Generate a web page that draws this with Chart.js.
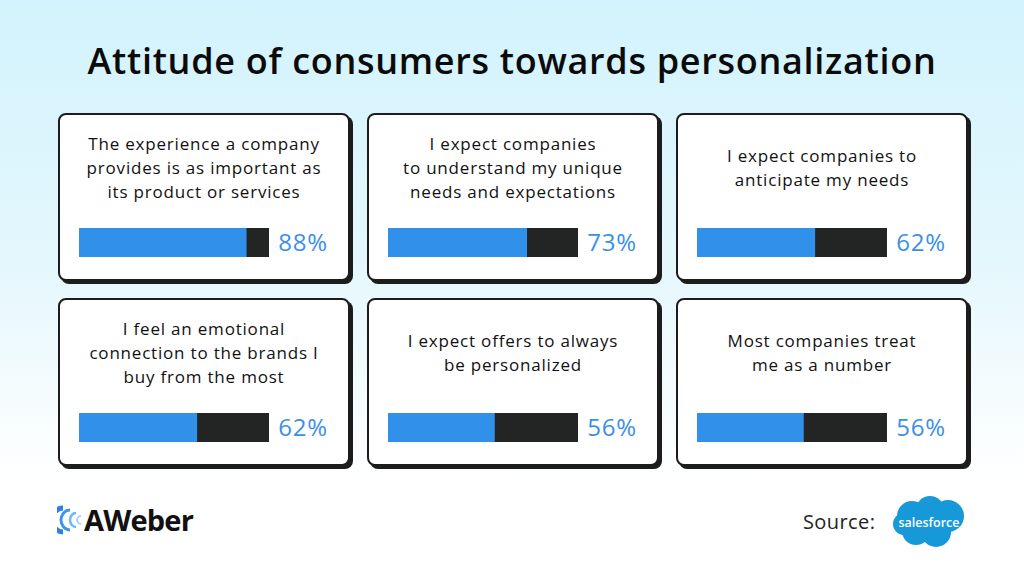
<!DOCTYPE html>
<html>
<head>
<meta charset="utf-8">
<script src="https://cdn.jsdelivr.net/npm/chart.js@4"></script>
<style>
  html, body { margin: 0; padding: 0; }
  body {
    width: 1024px; height: 576px; overflow: hidden; position: relative;
    font-family: "Open Sans", "Noto Sans", sans-serif;
    background: linear-gradient(to bottom, #d2f3fd 0px, #e4f7fd 260px, #ffffff 480px);
  }
  h1 {
    position: absolute; left: 0; top: 36px; width: 1024px; margin: 0;
    text-align: center; font-size: 36px; font-weight: 600; color: #0b0b0b;
    letter-spacing: 0.7px;
  }
  .card {
    position: absolute; box-sizing: border-box; width: 292px; height: 168px;
    background: #fff; border: 2px solid #1c1c1c; border-radius: 8px;
    box-shadow: 3px 3px 0 #1c1c1c;
  }
  .card .txt {
    position: absolute; left: 0; width: 100%; text-align: center;
    font-size: 17px; line-height: 24px; color: #111; font-weight: 500;
    letter-spacing: 0.8px;
  }
  .card .bar { position: absolute; left: 19px; top: 113px; width: 190px; height: 29px; }
  .card .pct {
    position: absolute; left: 210px; top: 111px; width: 66px; text-align: center;
    font-size: 24px; line-height: 32px; color: #3b8fe8; letter-spacing: 0.8px;
  }
  .logo { position: absolute; left: 57px; top: 505px; }
  .logo span { position: absolute; left: 27px; top: -5px; font-size: 29px; font-weight: 700; color: #111; letter-spacing: -0.8px; }
  .source { position: absolute; left: 803px; top: 508px; font-size: 20px; color: #222; letter-spacing: 0.4px; }
  .sf { position: absolute; left: 889px; top: 494px; }
</style>
</head>
<body>
<h1>Attitude of consumers towards personalization</h1>
<div id="cards"></div>

<div class="logo">
  <svg width="30" height="30" viewBox="0 0 30 30">
    <path d="M6 3 A11 12 0 0 0 6 27" fill="none" stroke="#2f7fe6" stroke-width="5"/>
    <path d="M13 5 A9 10 0 0 0 13 25" fill="none" stroke="#3f95ee" stroke-width="3"/>
    <path d="M19 8 A6 7 0 0 0 19 22" fill="none" stroke="#6fb6f5" stroke-width="2.5"/>
    <path d="M24 11 A4 4 0 0 0 24 19" fill="none" stroke="#a6d6fa" stroke-width="2"/>
  </svg>
  <span>AWeber</span>
</div>
<div class="source">Source:</div>
<svg class="sf" width="80" height="56" viewBox="0 0 78 56">
  <g fill="#1798d8">
    <circle cx="22" cy="22" r="15"/>
    <circle cx="40" cy="16" r="14"/>
    <circle cx="58" cy="22" r="16"/>
    <circle cx="46" cy="38" r="15"/>
    <circle cx="26" cy="37" r="14"/>
    <circle cx="14" cy="30" r="11"/>
  </g>
  <text x="39" y="33" text-anchor="middle" font-family="Open Sans, sans-serif" font-size="12.5" font-weight="600" fill="#fff">salesforce</text>
</svg>

<script>
const statements = [
  ["The experience a company", "provides is as important as", "its product or services"],
  ["I expect companies", "to understand my unique", "needs and expectations"],
  ["I expect companies to", "anticipate my needs"],
  ["I feel an emotional", "connection to the brands I", "buy from the most"],
  ["I expect offers to always", "be personalized"],
  ["Most companies treat", "me as a number"]
];
const shares = [88, 73, 62, 62, 56, 56];
const cardLeft = [58, 367, 676];
const cardTop = [113, 298];

const wrap = document.getElementById('cards');
statements.forEach((lines, i) => {
  const card = document.createElement('div');
  card.className = 'card';
  card.style.left = cardLeft[i % 3] + 'px';
  card.style.top = cardTop[Math.floor(i / 3)] + 'px';

  const txt = document.createElement('div');
  txt.className = 'txt';
  txt.style.top = (lines.length === 3 ? 17 : 29) + 'px';
  txt.innerHTML = lines.join('<br>');
  card.appendChild(txt);

  const box = document.createElement('div');
  box.className = 'bar';
  const cv = document.createElement('canvas');
  box.appendChild(cv);
  card.appendChild(box);

  const pct = document.createElement('div');
  pct.className = 'pct';
  pct.textContent = shares[i] + '%';
  card.appendChild(pct);
  wrap.appendChild(card);

  new Chart(cv, {
    type: 'bar',
    data: {
      labels: [''],
      datasets: [
        { data: [shares[i]], backgroundColor: '#3190ea', borderWidth: 0 },
        { data: [100 - shares[i]], backgroundColor: '#222524', borderWidth: 0 }
      ]
    },
    options: {
      indexAxis: 'y',
      responsive: true,
      maintainAspectRatio: false,
      animation: false,
      layout: { padding: 0 },
      datasets: { bar: { barPercentage: 1, categoryPercentage: 1 } },
      scales: {
        x: { stacked: true, min: 0, max: 100, display: false },
        y: { stacked: true, display: false }
      },
      plugins: { legend: { display: false }, tooltip: { enabled: false } }
    }
  });
});
</script>
</body>
</html>
